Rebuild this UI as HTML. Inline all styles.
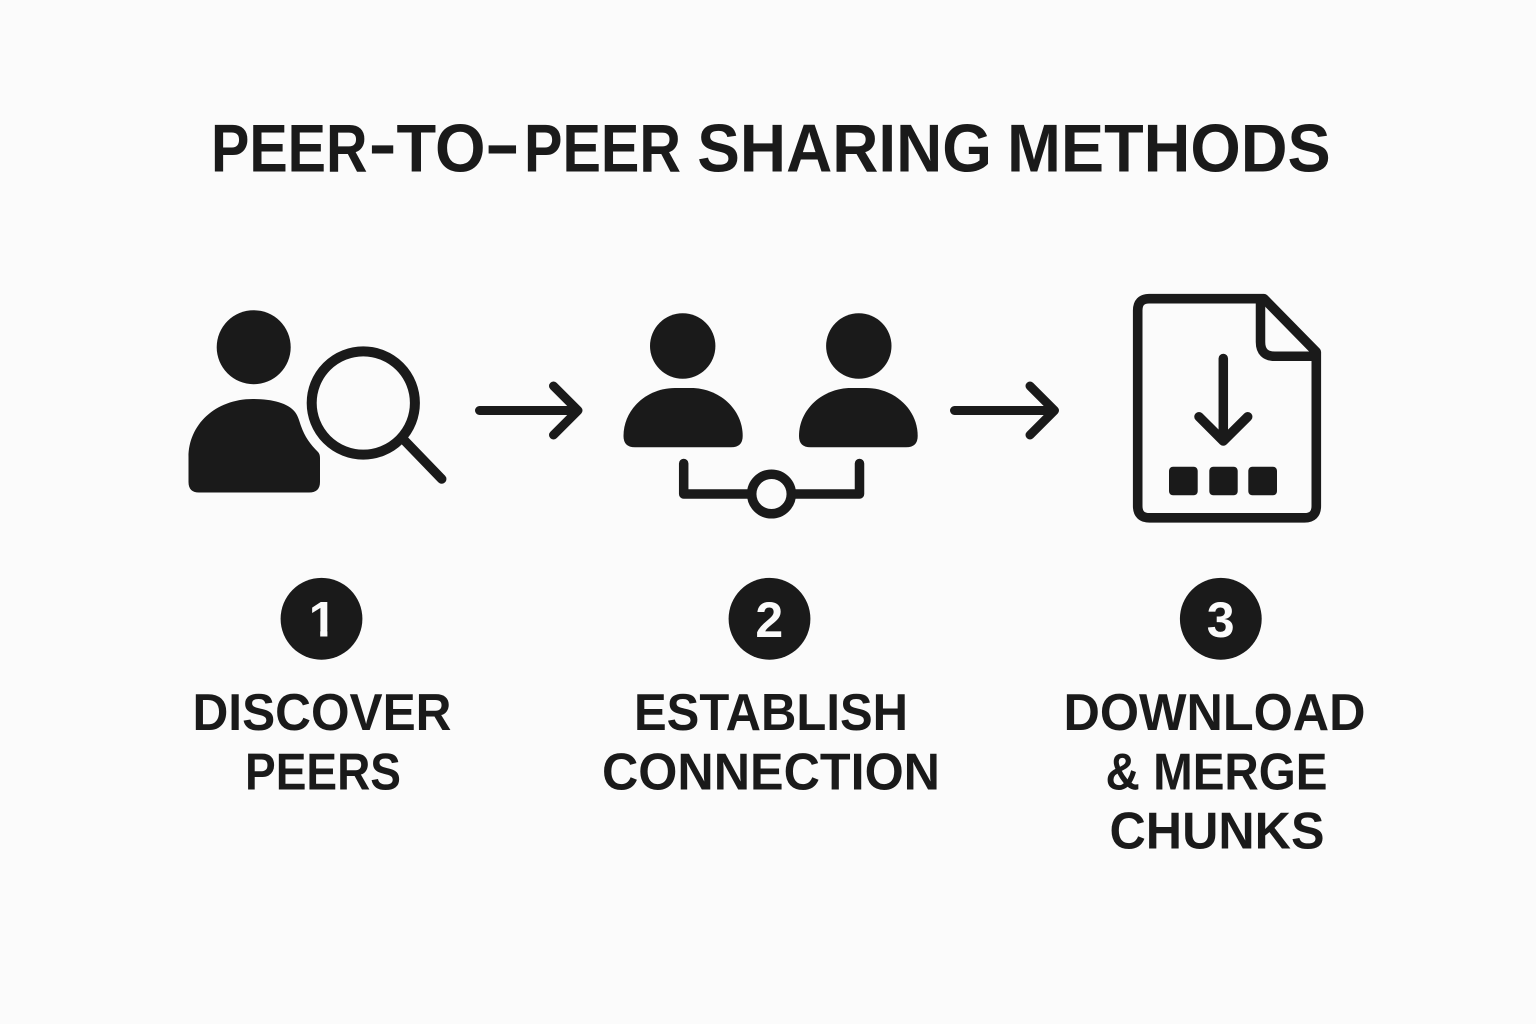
<!DOCTYPE html>
<html>
<head>
<meta charset="utf-8">
<style>
html,body{margin:0;padding:0;background:#fbfbfb;}
svg{display:block;}
text{font-family:"Liberation Sans",sans-serif;font-weight:700;fill:#1a1a1a;}
.c{text-anchor:middle;}
</style>
</head>
<body>
<svg width="1536" height="1024" viewBox="0 0 1536 1024" xmlns="http://www.w3.org/2000/svg">
<rect width="1536" height="1024" fill="#fbfbfb"/>

<!-- Title -->
<g font-size="67.5">
<text x="211" y="171.5" textLength="156.5" lengthAdjust="spacingAndGlyphs">PEER</text>
<text x="368.6" y="167" textLength="28" lengthAdjust="spacingAndGlyphs">-</text>
<text x="396.5" y="171.5" textLength="89" lengthAdjust="spacingAndGlyphs">TO</text>
<text x="484.4" y="167" textLength="36" lengthAdjust="spacingAndGlyphs">-</text>
<text x="524" y="171.5" textLength="157" lengthAdjust="spacingAndGlyphs">PEER</text>
<text x="697.3" y="171.5" textLength="294.7" lengthAdjust="spacingAndGlyphs">SHARING</text>
<text x="1007" y="171.5" textLength="323.7" lengthAdjust="spacingAndGlyphs">METHODS</text>
</g>

<!-- Icon 1 -->
<circle cx="253.7" cy="347.2" r="37" fill="#1a1a1a"/>
<path d="M188.5 482 V457 C188.5 425 215 399 253 399 C272 399 288 403 295 412 C298 416 299 420 301 426 C305 437 310 444 318 452 Q320 454 320 458 V482 Q320 492.5 309 492.5 H199 Q188.5 492.5 188.5 482 Z" fill="#1a1a1a"/>
<circle cx="363.3" cy="403" r="51.6" fill="none" stroke="#1a1a1a" stroke-width="10"/>
<line x1="405" y1="441" x2="441.7" y2="479" stroke="#1a1a1a" stroke-width="9.5" stroke-linecap="round"/>

<!-- Arrow 1 -->
<path d="M479.5 410.5 H577 M553.5 386 L578 410.5 L553.5 435" fill="none" stroke="#1a1a1a" stroke-width="9" stroke-linecap="round" stroke-linejoin="round"/>

<!-- Icon 2 -->
<circle cx="682.7" cy="346" r="32.7" fill="#1a1a1a"/>
<circle cx="858.8" cy="346" r="32.7" fill="#1a1a1a"/>
<path d="M623.5 436 C623.5 409 647 388 675 388 H691 C719 388 742.7 409 742.7 436 Q742.7 447.3 731 447.3 H635 Q623.5 447.3 623.5 436 Z" fill="#1a1a1a"/>
<path d="M799 436 C799 409 823 388 851 388 H866 C894 388 917.7 409 917.7 436 Q917.7 447.3 906 447.3 H810.5 Q799 447.3 799 436 Z" fill="#1a1a1a"/>
<path d="M683.7 463.5 V494 H859.5 V463.5" fill="none" stroke="#1a1a1a" stroke-width="9.5" stroke-linecap="round" stroke-linejoin="round"/>
<circle cx="771.5" cy="494" r="19.8" fill="#fbfbfb" stroke="#1a1a1a" stroke-width="9.5"/>

<!-- Arrow 2 -->
<path d="M954.5 410.5 H1054 M1030 386 L1054.5 410.5 L1030 435" fill="none" stroke="#1a1a1a" stroke-width="9" stroke-linecap="round" stroke-linejoin="round"/>

<!-- Icon 3 -->
<path d="M1149 298.7 H1264 L1316.3 352 V506 Q1316.3 517.8 1304.5 517.8 H1149.5 Q1137.7 517.8 1137.7 506 V310.5 Q1137.7 298.7 1149 298.7 Z" fill="none" stroke="#1a1a1a" stroke-width="9.6" stroke-linejoin="round"/>
<path d="M1260.5 299 V342 Q1260.5 356.3 1275 356.3 H1315" fill="none" stroke="#1a1a1a" stroke-width="9.5" stroke-linejoin="round"/>
<path d="M1223.3 358.5 V441 M1199 416.7 L1223.3 441 L1247.7 416.7" fill="none" stroke="#1a1a1a" stroke-width="9.5" stroke-linecap="round" stroke-linejoin="round"/>
<rect x="1169" y="466.7" width="28.7" height="28.6" rx="4" fill="#1a1a1a"/>
<rect x="1209.3" y="466.7" width="28.4" height="28.6" rx="4" fill="#1a1a1a"/>
<rect x="1248.3" y="466.7" width="28.7" height="28.6" rx="4" fill="#1a1a1a"/>

<!-- Badges -->
<circle cx="321.5" cy="618.8" r="40.9" fill="#1a1a1a"/>
<circle cx="769.5" cy="618.8" r="40.9" fill="#1a1a1a"/>
<circle cx="1220.8" cy="618.8" r="40.9" fill="#1a1a1a"/>
<text class="c" x="322.7" y="636.7" font-size="50" style="fill:#fbfbfb">1</text>
<rect x="305" y="630" width="15.2" height="9" fill="#1a1a1a"/>
<rect x="327.4" y="630" width="14" height="9" fill="#1a1a1a"/>
<text class="c" x="769.3" y="637" font-size="50" style="fill:#fbfbfb">2</text>
<text class="c" x="1220.7" y="637" font-size="50" style="fill:#fbfbfb">3</text>

<!-- Labels -->
<g font-size="52">
<text class="c" x="322" y="730" textLength="259" lengthAdjust="spacingAndGlyphs">DISCOVER</text>
<text class="c" x="323" y="789.5" textLength="156" lengthAdjust="spacingAndGlyphs">PEERS</text>
<text class="c" x="771" y="730" textLength="274" lengthAdjust="spacingAndGlyphs">ESTABLISH</text>
<text class="c" x="771" y="789.5" textLength="338" lengthAdjust="spacingAndGlyphs">CONNECTION</text>
<text class="c" x="1214.5" y="730" textLength="302" lengthAdjust="spacingAndGlyphs">DOWNLOAD</text>
<text class="c" x="1216.5" y="789.5" textLength="222" lengthAdjust="spacingAndGlyphs">&amp; MERGE</text>
<text class="c" x="1217" y="848.5" textLength="215" lengthAdjust="spacingAndGlyphs">CHUNKS</text>
</g>
</svg>
</body>
</html>
